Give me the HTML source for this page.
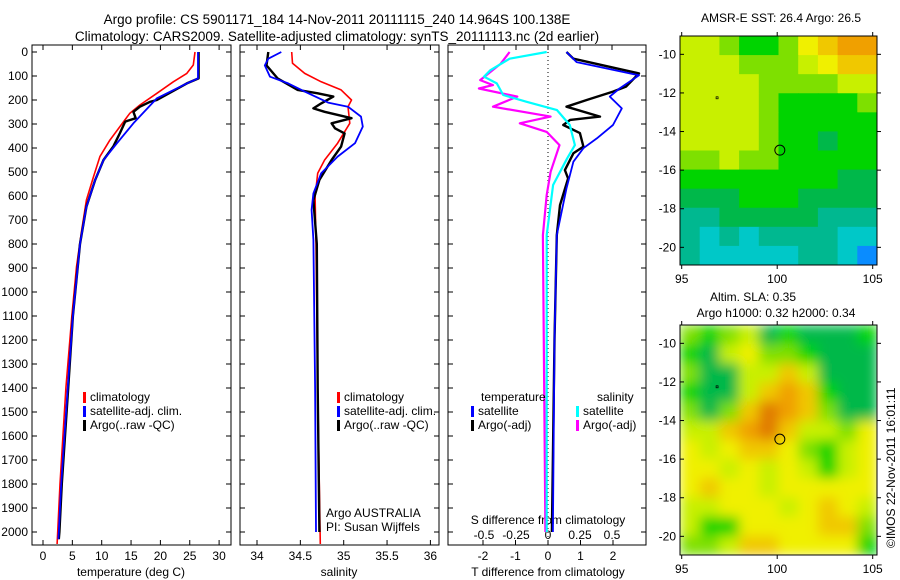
<!DOCTYPE html>
<html><head><meta charset="utf-8">
<style>
body{margin:0;background:#fff;}
svg{display:block;font-family:"Liberation Sans",sans-serif;}
</style></head>
<body>
<svg id="c" width="900" height="580" xmlns="http://www.w3.org/2000/svg">
<defs>
<filter id="blur" x="0" y="0" width="1" height="1"><feGaussianBlur stdDeviation="6" edgeMode="duplicate"/></filter>
<clipPath id="clipSla"><rect x="680" y="325" width="197" height="230"/></clipPath>
</defs>
</svg>
<script>
// ---- data ----
const tClimDepth=[0,54,89,124,172,221,255,311,367,436,520,617,742,895,1103,1400,1800,2000,2050];
const tClimVal=[25.9,25.6,24.5,22.2,19.4,16.5,14.8,13.1,11.4,9.7,8.6,7.4,6.6,5.7,4.9,3.9,2.9,2.5,2.4];
const tSatDepth=[0,110,131,193,297,380,450,533,645,800,1100,1400,1800,2000,2030];
const tSatVal=[26.4,26.4,24.5,19.4,15.4,12.6,10.3,8.9,7.4,6.3,5.1,4.2,3.1,2.7,2.6];
const tArgoDepth=[0,110,131,200,208,228,249,276,290,338,393,450,533,645,800,1100,1400,1800,2000,2030];
const tArgoVal=[26.5,26.5,24.5,19.4,18.2,16.5,15.4,15.8,14.0,13.1,12.0,10.3,8.9,7.4,6.3,5.1,4.3,3.2,2.8,2.7];
const sClimDepth=[0,47,89,124,158,200,228,297,380,450,505,603,800,1400,2050];
const sClimVal=[34.40,34.41,34.55,34.74,34.97,35.09,35.05,35.07,34.93,34.78,34.70,34.67,34.68,34.70,34.73];
const sSatDepth=[0,28,56,103,131,165,211,228,269,311,380,436,505,589,658,783,1400,2000];
const sSatVal=[34.28,34.13,34.09,34.15,34.36,34.55,34.82,35.05,35.20,35.22,35.13,34.93,34.74,34.65,34.63,34.65,34.67,34.68];
const sArgoDepth=[0,56,111,158,172,186,214,235,249,276,297,318,339,394,450,533,617,800,1400,2000];
const sArgoVal=[34.13,34.11,34.24,34.47,34.70,34.88,34.74,34.65,34.78,35.09,34.86,34.90,35.01,34.97,34.86,34.72,34.65,34.69,34.70,34.72];
const dArgoTDepth=[0,28,89,144,165,200,228,269,283,304,338,394,422,492,527,638,763,1200,2000];
const dArgoTVal=[0.57,0.78,2.8,2.4,2.0,1.19,0.57,1.6,0.68,0.47,0.98,1.09,0.78,0.52,0.62,0.37,0.27,0.2,0.12];
const dSatTDepth=[0,42,97,152,186,235,304,360,401,457,568,763,1200,2000];
const dSatTVal=[0.57,0.88,2.8,2.2,1.9,2.27,2.0,1.5,1.09,0.78,0.57,0.27,0.2,0.15];
const dSatSDepth=[0,28,76,103,131,179,207,242,304,388,443,554,763,2000];
const dSatSVal=[-0.01,-0.30,-0.45,-0.5,-0.4,-0.35,-0.17,0.07,0.17,0.21,0.15,0.04,-0.01,-0.01];
const dArgoSDepth=[0,49,117,138,152,186,228,269,297,333,388,499,596,763,2000];
const dArgoSVal=[-0.30,-0.37,-0.53,-0.43,-0.54,-0.24,-0.43,0.02,-0.22,-0.01,0.09,0.02,-0.01,-0.04,-0.02];
const depthTicks=[0,100,200,300,400,500,600,700,800,900,1000,1100,1200,1300,1400,1500,1600,1700,1800,1900,2000];
const tTicks=[0,5,10,15,20,25,30];
const sTicks=[34,34.5,35,35.5,36];
const sTickLabels=["34","34.5","35","35.5","36"];
const dTTicks=[-2,-1,0,1,2];
const dSTicks=[-0.5,-0.25,0,0.25,0.5];
const dSTickLabels=["-0.5","-0.25","0","0.25","0.5"];
const latTicks=[-10,-12,-14,-16,-18,-20];
const lonTicks=[95,100,105];
const sstGrid=[
[6,6,5,4,4,5,7,8,9,9],[6,6,6,5,5,5,6,7,8,8],[6,6,6,6,5,5,5,5,6,6],[6,6,6,6,5,4,4,4,4,5],
[6,6,6,6,5,4,4,4,4,4],[6,6,6,6,5,4,4,3,4,4],[5,5,6,5,5,4,4,4,4,4],[4,4,4,4,4,4,4,4,3,3],
[3,3,3,4,4,4,3,3,3,3],[2,2,3,3,3,3,3,2,2,2],[2,1,2,1,2,2,2,2,1,1],[2,1,1,1,1,1,2,2,1,0]];
const slaGrid=[
[5,4,5,6,3,4,3,3,3,4],[4,3,6,7,5,5,4,3,3,3],[5,3,3,6,6,8,6,3,3,3],[4,3,3,6,8,9,8,4,3,3],
[5,3,5,8,10,9,8,5,3,3],[6,6,8,9,10,8,6,6,5,7],[7,6,7,8,8,7,5,4,6,7],[7,7,6,7,6,7,6,4,6,7],
[7,8,7,7,6,7,7,7,7,7],[6,6,7,7,7,6,7,8,7,6],[6,4,4,7,7,7,7,8,8,5],[5,5,6,8,8,7,7,7,7,4]];
const cmap=["#0a8cff","#00c8c8","#00b890","#00b84a","#00d400","#7ee000","#c8f000","#f0f000","#f0c800","#f0a000","#e07a00"];

const NS="http://www.w3.org/2000/svg";
const svg=document.getElementById('c');
function el(t,a,p){const e=document.createElementNS(NS,t);for(const k in a)e.setAttribute(k,a[k]);(p||svg).appendChild(e);return e;}
function txt(x,y,s,opts,p){const e=el('text',Object.assign({x:x,y:y,'font-size':12,fill:'#000'},opts||{}),p);e.textContent=s;return e;}

const TOP=52, BOT=545, yD=d=>TOP+d*0.24;
const xT=v=>43+v*5.87, xS=v=>257+(v-34)*86.7, xDT=v=>548+v*32.5, xDS=v=>548+v*128;

let t1=txt(337,24,"Argo profile: CS 5901171_184 14-Nov-2011 20111115_240 14.964S 100.138E",{'font-size':13.5,'text-anchor':'middle'});

let t2=txt(337,41,"Climatology: CARS2009. Satellite-adjusted climatology: synTS_20111113.nc (2d earlier)",{'font-size':13.5,'text-anchor':'middle'});


function panel(x0,x1,name){
  const g=el('g',{});
  
  
  el('rect',{x:x0,y:45,width:x1-x0,height:BOT-45,fill:'none',stroke:'#000','stroke-width':1},g);
  depthTicks.forEach(d=>{const y=yD(d);el('line',{x1:x0,x2:x0+5,y1:y,y2:y,stroke:'#000'},g);el('line',{x1:x1-5,x2:x1,y1:y,y2:y,stroke:'#000'},g);});
  return g;
}
function line(g,xs,ds,xf,color,w,name,dash){
  const pts=ds.map((d,i)=>xf(xs[i]).toFixed(1)+','+yD(d).toFixed(1)).join(' ');
  const p=el('polyline',{points:pts,fill:'none',stroke:color,'stroke-width':w,'stroke-linejoin':'round'},g);
  if(dash)p.setAttribute('stroke-dasharray',dash);
  
  
}
function xticks(g,ticks,labels,xf,y){ticks.forEach((v,i)=>{const x=xf(v);el('line',{x1:x,x2:x,y1:45,y2:50,stroke:'#000'},g);el('line',{x1:x,x2:x,y1:BOT-5,y2:BOT,stroke:'#000'},g);txt(x,y,labels[i],{'text-anchor':'middle'},g);});}
function legend(g,x,y,items){items.forEach((it,i)=>{el('rect',{x:x,y:y+i*14-9,width:3,height:11,fill:it[0]},g);txt(x+7,y+i*14,it[1],{},g);});}

const p1=panel(32,231,'temperature-panel');
depthTicks.forEach(d=>txt(28,yD(d)+4,String(d),{'text-anchor':'end'},p1));
xticks(p1,tTicks,tTicks.map(String),xT,560);
txt(131,576,"temperature (deg C)",{'text-anchor':'middle'},p1);
line(p1,tClimVal,tClimDepth,xT,'#f00',1.6,'temp-climatology-line');
line(p1,tArgoVal,tArgoDepth,xT,'#000',2.4,'temp-argo-line');
line(p1,tSatVal,tSatDepth,xT,'#00f',1.8,'temp-satellite-line');
legend(p1,83,401,[['#f00','climatology'],['#00f','satellite-adj. clim.'],['#000','Argo(..raw -QC)']]);

const p2=panel(240,439,'salinity-panel');
xticks(p2,sTicks,sTickLabels,xS,560);
txt(339,576,"salinity",{'text-anchor':'middle'},p2);
line(p2,sClimVal,sClimDepth,xS,'#f00',1.6,'sal-climatology-line');
line(p2,sArgoVal,sArgoDepth,xS,'#000',2.4,'sal-argo-line');
line(p2,sSatVal,sSatDepth,xS,'#00f',1.8,'sal-satellite-line');
legend(p2,337,401,[['#f00','climatology'],['#00f','satellite-adj. clim.'],['#000','Argo(..raw -QC)']]);
txt(326,517,"Argo AUSTRALIA",{},p2);
txt(326,531,"PI: Susan Wijffels",{},p2);

const p3=panel(448,646,'difference-panel');
el('line',{x1:548,x2:548,y1:52,y2:545,stroke:'#000','stroke-dasharray':'1,3'},p3);
dTTicks.forEach(v=>{const x=xDT(v);el('line',{x1:x,x2:x,y1:BOT-5,y2:BOT,stroke:'#000'},p3);txt(x,560,String(v),{'text-anchor':'middle'},p3);});
dSTicks.forEach((v,i)=>{const x=xDS(v);el('line',{x1:x,x2:x,y1:45,y2:50,stroke:'#000'},p3);txt(x,539,dSTickLabels[i],{'text-anchor':'middle'},p3);});
txt(548,524,"S difference from climatology",{'text-anchor':'middle'},p3);
txt(548,576,"T difference from climatology",{'text-anchor':'middle'},p3);
line(p3,dArgoTVal,dArgoTDepth,xDT,'#000',2.4,'tdiff-argo-line');
line(p3,dSatTVal,dSatTDepth,xDT,'#00f',1.8,'tdiff-satellite-line');
line(p3,dArgoSVal,dArgoSDepth,xDS,'#f0f',2.2,'sdiff-argo-line');
line(p3,dSatSVal,dSatSDepth,xDS,'#0ff',2.2,'sdiff-satellite-line');
txt(481,401,"temperature",{},p3);txt(597,401,"salinity",{},p3);
legend(p3,471,415,[['#00f','satellite'],['#000','Argo(-adj)']]);
legend(p3,576,415,[['#0ff','satellite'],['#f0f','Argo(-adj)']]);

function map(x0,y0,y1,grid,name,smooth){
  const g=el('g',{});
  
  
  const x1=877, W=x1-x0, H=y1-y0;
  const rows=grid.length, cols=grid[0].length;
  let cg=g;
  if(smooth){const outer=el('g',{'clip-path':'url(#clipSla)'},g);cg=el('g',{filter:'url(#blur)'},outer);}
  grid.forEach((r,i)=>r.forEach((v,j)=>{
    const c=el('rect',{x:x0+j*W/cols,y:y0+i*H/rows,width:W/cols+0.5,height:H/rows+0.5,fill:cmap[v]},cg);
    
    
  }));
  el('rect',{x:x0,y:y0,width:W,height:H,fill:'none',stroke:'#000'},g);
  const lat2y=l=>y0+(-9.05-l)*19.3, lon2x=l=>681.7+(l-95)*19.1;
  latTicks.forEach(l=>{const y=lat2y(l);el('line',{x1:x0,x2:x0+4,y1:y,y2:y,stroke:'#000'},g);el('line',{x1:x1,x2:x1+4,y1:y,y2:y,stroke:'#000'},g);txt(x0-4,y+4,String(l),{'text-anchor':'end'},g);});
  lonTicks.forEach(l=>{const x=lon2x(l);el('line',{x1:x,x2:x,y1:y0-4,y2:y0,stroke:'#000'},g);el('line',{x1:x,x2:x,y1:y1,y2:y1+4,stroke:'#000'},g);txt(x,y1+18,String(l),{'text-anchor':'middle'},g);});
  el('circle',{cx:lon2x(100.138),cy:lat2y(-14.964),r:5,fill:'none',stroke:'#000'},g);
  el('rect',{x:lon2x(96.8),y:lat2y(-12.2),width:2,height:2,fill:'none',stroke:'#000','stroke-width':0.7},g);
  return g;
}
map(680,36,265,sstGrid,'sst-map',false);
map(680,325,555,slaGrid,'sla-map',true);
txt(781,22,"AMSR-E SST: 26.4 Argo: 26.5",{'text-anchor':'middle'});
txt(753,301,"Altim. SLA: 0.35",{'text-anchor':'middle'});
txt(776,317,"Argo h1000: 0.32 h2000: 0.34",{'text-anchor':'middle'});
const imos=txt(0,0,"©IMOS 22-Nov-2011 16:01:11",{'transform':'translate(895,548) rotate(-90)','font-size':12});


</script>
</body></html>
